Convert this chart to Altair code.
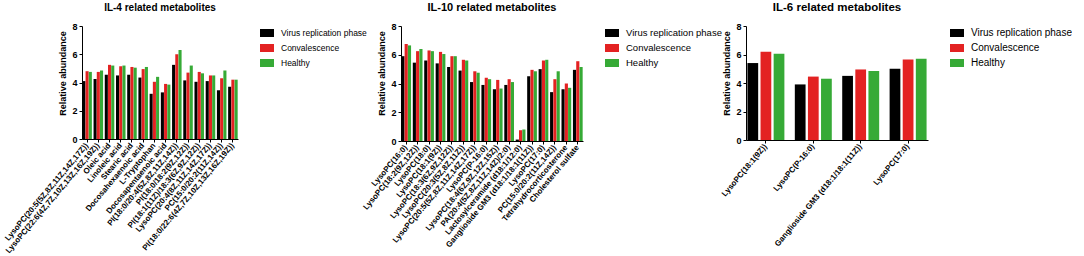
import altair as alt
import pandas as pd

groups = ["Virus replication phase", "Convalescence", "Healthy"]
colors = ["#000000", "#e32222", "#36aa36"]

il4_cats = [
    "LysoPC(20:5(5Z,8Z,11Z,14Z,17Z))",
    "LysoPC(22:6(4Z,7Z,10Z,13Z,16Z,19Z))",
    "Oleic acid",
    "Linoleic acid",
    "Stearic acid",
    "Docosahexaenoic acid",
    "L-Tryptophan",
    "Docosapentaenoic acid",
    "PI(18:0/20:4(5Z,8Z,11Z,14Z))",
    "PI(18:0/18:2(9Z,12Z))",
    "PI(18:1(11Z)/18:3(6Z,9Z,12Z))",
    "LysoPC(20:4(8Z,11Z,14Z,17Z))",
    "PC(15:0/20:2(11Z,14Z))",
    "PI(18:0/22:6(4Z,7Z,10Z,13Z,16Z,19Z))",
]
il4_virus = [4.1, 4.25, 4.55, 4.5, 4.55, 4.35, 3.2, 3.3, 5.25, 4.15, 4.05, 4.1, 3.45, 3.7]
il4_conv = [4.8, 4.75, 5.25, 5.15, 5.1, 4.95, 4.05, 3.9, 6.0, 4.7, 4.75, 4.5, 4.3, 4.2]
il4_healthy = [4.75, 4.85, 5.2, 5.2, 5.05, 5.1, 4.4, 3.85, 6.3, 5.2, 4.65, 4.5, 4.85, 4.2]

il10_cats = [
    "LysoPC(16:0)",
    "LysoPC(18:2(9Z,12Z))",
    "LysoPC(18:0)",
    "LysoPC(18:1(9Z))",
    "LysoPC(18:3(6Z,9Z,12Z))",
    "LysoPC(20:3(5Z,8Z,11Z))",
    "LysoPC(20:5(5Z,8Z,11Z,14Z,17Z))",
    "LysoPC(P-16:0)",
    "LysoPC(18:4(6Z,9Z,12Z,15Z))",
    "PA(20:4(5Z,8Z,11Z,14Z)/2:0)",
    "Lactosylceramide (d18:1/12:0)",
    "Ganglioside GM3 (d18:1/18:1(11Z))",
    "LysoPC(17:0)",
    "PC(15:0/20:2(11Z,14Z))",
    "Tetrahydrocorticosterone",
    "Cholesterol sulfate",
]
il10_virus = [5.9, 5.45, 5.6, 5.4, 5.15, 4.9, 4.1, 3.9, 3.6, 3.9, 0.1, 4.5, 5.0, 3.4, 3.6, 4.95]
il10_conv = [6.75, 6.25, 6.3, 6.2, 5.9, 5.65, 4.85, 4.4, 4.25, 4.3, 0.75, 4.95, 5.6, 4.3, 4.0, 5.55]
il10_healthy = [6.65, 6.4, 6.25, 6.05, 5.9, 5.6, 4.75, 4.3, 3.65, 4.1, 0.8, 4.85, 5.65, 4.85, 3.7, 5.15]

il6_cats = [
    "LysoPC(18:1(9Z))",
    "LysoPC(P-16:0)",
    "Ganglioside GM3 (d18:1/18:1(11Z))",
    "LysoPC(17:0)",
]
il6_virus = [5.4, 3.9, 4.5, 5.0]
il6_conv = [6.2, 4.45, 4.95, 5.65]
il6_healthy = [6.05, 4.3, 4.85, 5.7]

FONT = "Liberation Sans"


def panel(title, cats, v, c, h, width, height, pad_x, pad_off, title_size, legend_size):
    rows = []
    for i, cat in enumerate(cats):
        for g, vals in zip(groups, [v, c, h]):
            rows.append({"category": cat, "group": g, "value": vals[i]})
    df = pd.DataFrame(rows)
    return (
        alt.Chart(df)
        .mark_bar()
        .encode(
            x=alt.X(
                "category:N",
                sort=cats,
                scale=alt.Scale(paddingInner=pad_x, paddingOuter=0.03),
                axis=alt.Axis(
                    title=None,
                    labelAngle=-50,
                    labelFont=FONT,
                    labelFontWeight="bold",
                    labelFontSize=8,
                    labelColor="black",
                    labelPadding=2,
                    labelOverlap=False,
                    labelLimit=300,
                    domainColor="black",
                    tickColor="black",
                    tickSize=3,
                ),
            ),
            xOffset=alt.XOffset("group:N", sort=groups, scale=alt.Scale(paddingInner=pad_off)),
            y=alt.Y(
                "value:Q",
                scale=alt.Scale(domain=[0, 8]),
                axis=alt.Axis(
                    title="Relative abundance",
                    values=[0, 2, 4, 6, 8],
                    grid=False,
                    labelFont=FONT,
                    labelFontWeight="bold",
                    labelFontSize=9,
                    labelColor="black",
                    labelPadding=2,
                    titleFont=FONT,
                    titleFontWeight="bold",
                    titleFontSize=9,
                    titleColor="black",
                    titlePadding=4,
                    titleY=47,
                    domainColor="black",
                    tickColor="black",
                    tickSize=3,
                ),
            ),
            color=alt.Color(
                "group:N",
                sort=groups,
                scale=alt.Scale(domain=groups, range=colors),
                legend=alt.Legend(
                    title=None,
                    symbolType="M-1,-0.57H1V0.57H-1Z",
                    symbolSize=196,
                    symbolStrokeWidth=0,
                    labelFont=FONT,
                    labelFontSize=legend_size,
                    labelColor="black",
                    labelOffset=7,
                    rowPadding=3,
                    offset=22,
                ),
            ),
        )
        .properties(
            width=width,
            height=height,
            title=alt.TitleParams(
                title, font=FONT, fontSize=title_size, fontWeight="bold", color="black",
                anchor="middle", offset=9,
            ),
        )
    )


left = panel("IL-4 related metabolites", il4_cats, il4_virus, il4_conv, il4_healthy,
             156, 113, 0.15, 0.04, 10, 8.5)
mid = panel("IL-10 related metabolites", il10_cats, il10_virus, il10_conv, il10_healthy,
            182, 115, 0.15, 0.04, 11, 9.5)
right = panel("IL-6 related metabolites", il6_cats, il6_virus, il6_conv, il6_healthy,
              182, 114, 0.22, 0.18, 11.5, 10)

chart = (
    alt.hconcat(left, mid, right, spacing=163, bounds="flush")
    .resolve_scale(color="independent", x="independent", y="independent", xOffset="independent")
    .properties(padding={"left": 3, "top": 1, "right": 0, "bottom": 0})
    .configure_view(strokeWidth=0)
)

chart.save("out.html", embed_options={"renderer": "svg", "actions": False})
